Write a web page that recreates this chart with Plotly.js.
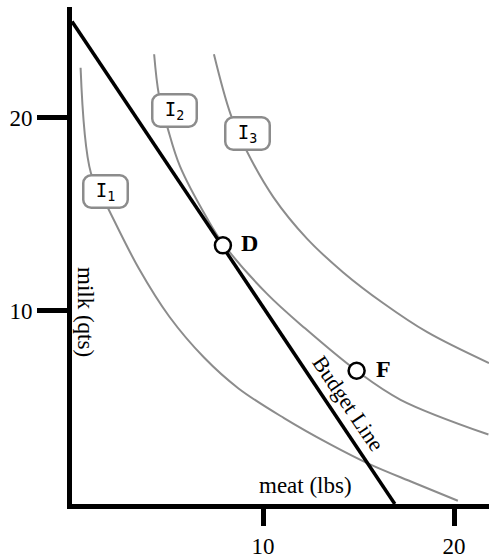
<!DOCTYPE html>
<html>
<head>
<meta charset="utf-8">
<script src="https://cdn.plot.ly/plotly-3.0.1.min.js"></script>
<style>
  html, body { margin: 0; padding: 0; background: #fff; }
  #chart { width: 489px; height: 560px; }
</style>
</head>
<body>
<div id="chart"></div>
<script>
// indifference curves, points (meat lbs, milk qts)
const i1x = [0.45, 0.99, 1.9, 3.5, 5.1, 6.9, 8.7, 11.1, 13.5, 15.6, 17.9, 20.2];
const i1y = [22.6, 17.15, 15.3, 12.2, 9.7, 7.6, 6.0, 4.45, 3.1, 2.05, 1.1, 0.17];

const i2x = [4.3, 4.55, 5.0, 5.65, 7.07, 7.9, 10.2, 12.2, 14.9, 17.2, 21.8];
const i2y = [23.3, 21.2, 19.5, 17.5, 14.8, 13.5, 10.9, 9.1, 6.9, 5.4, 3.6];

const i3x = [7.43, 8.3, 9.14, 10.54, 12.3, 14.2, 16.3, 18.6, 21.83];
const i3y = [23.3, 20.2, 18.3, 15.9, 13.75, 12.0, 10.4, 8.9, 7.3];

const budgetX = [0, 16.9];
const budgetY = [25, 0];

const pointNames = ["D", "F"];
const pointX = [7.9, 14.9];
const pointY = [13.4, 6.9];

const xTicks = [10, 20];
const yTicks = [10, 20];

const serif = "Liberation Serif, Times New Roman, serif";
const grey = "#8c8c8c";

function curve(x, y) {
    return {
        x: x, y: y,
        type: "scatter",
        mode: "lines",
        line: {color: grey, width: 2, shape: "spline", smoothing: 1},
        hoverinfo: "skip"
    };
}

const data = [
    curve(i1x, i1y),
    curve(i2x, i2y),
    curve(i3x, i3y),
    {
        x: budgetX, y: budgetY,
        type: "scatter", mode: "lines",
        line: {color: "#000", width: 3.5}
    },
    {
        x: pointX, y: pointY,
        type: "scatter", mode: "markers",
        marker: {size: 16, color: "#fff", line: {color: "#000", width: 2.5}}
    }
];

function curveLabel(n, x, y) {
    return {
        x: x, y: y, xref: "x", yref: "y",
        text: "I<sub>" + n + "</sub>",
        showarrow: false,
        xanchor: "center", yanchor: "middle",
        font: {family: "DejaVu Sans Mono, monospace", size: 19, color: "#000"},
        bgcolor: "#fff",
        bordercolor: grey, borderwidth: 2.5, borderpad: 2,
        width: 38, height: 26
    };
}

const annotations = [
    curveLabel(1, 1.73, 16.2),
    curveLabel(2, 5.34, 20.4),
    curveLabel(3, 9.21, 19.2),
    {
        x: 0.71, y: 9.97, text: "milk (qts)", showarrow: false,
        textangle: 90, font: {family: serif, size: 23, color: "#000"}
    },
    {
        x: 12.2, y: 0.95, text: "meat (lbs)", showarrow: false,
        font: {family: serif, size: 23, color: "#000"}
    },
    {
        x: 14.48, y: 5.23, text: "Budget Line", showarrow: false,
        textangle: 56, font: {family: serif, size: 22, color: "#000"}
    }
];

const labelPos = [[9.29, 13.5], [16.3, 7.02]];
pointNames.forEach(function (name, i) {
    annotations.push({
        x: labelPos[i][0], y: labelPos[i][1], text: "<b>" + name + "</b>",
        showarrow: false, font: {family: serif, size: 24, color: "#000"}
    });
});

const layout = {
    width: 489, height: 560,
    margin: {l: 72, r: 0, t: 7, b: 56},
    paper_bgcolor: "#fff", plot_bgcolor: "#fff",
    showlegend: false,
    xaxis: {
        range: [0, 21.83], tickvals: xTicks, ticktext: xTicks.map(String),
        showgrid: false, zeroline: false,
        showline: true, linecolor: "#000", linewidth: 5,
        ticks: "outside", ticklen: 17, tickwidth: 5, tickcolor: "#000",
        tickfont: {family: serif, size: 23, color: "#000"}
    },
    yaxis: {
        range: [0, 25.75], tickvals: yTicks, ticktext: yTicks.map(String),
        showgrid: false, zeroline: false,
        showline: true, linecolor: "#000", linewidth: 5,
        ticks: "outside", ticklen: 30, tickwidth: 5, tickcolor: "#000",
        tickfont: {family: serif, size: 23, color: "#000"}
    },
    annotations: annotations
};

Plotly.newPlot("chart", data, layout, {displayModeBar: false, staticPlot: true}).then(function (gd) {
    // rounded boxes round the curve labels
    gd.querySelectorAll(".annotation rect.bg").forEach(function (r) {
        if (r.style.strokeWidth && parseFloat(r.style.strokeWidth) > 0) {
            r.setAttribute("rx", 8);
            r.setAttribute("ry", 8);
        }
    });
});
</script>
</body>
</html>
